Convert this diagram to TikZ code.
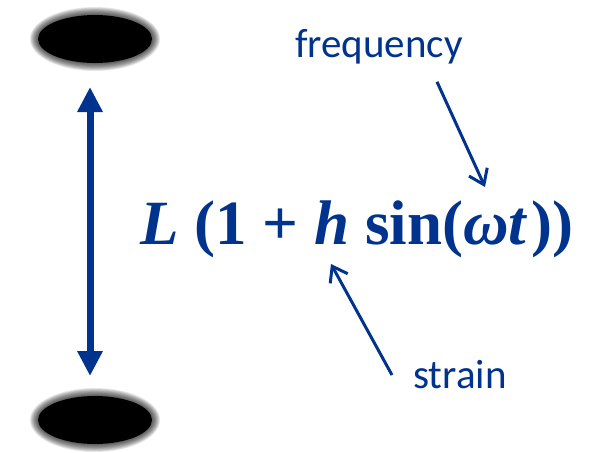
\documentclass[tikz,border=0pt]{standalone}
\usepackage{fontspec}
\usepackage{tikz}
\usetikzlibrary{shapes.geometric, arrows.meta, positioning, calc}

\newfontfamily\labelfont{Carlito}
\newfontfamily\formulafont{Liberation Serif}
\definecolor{strainblue}{RGB}{0,51,141}

\begin{document}
\begin{tikzpicture}[
  x=1pt, y=-1pt,
  mass/.style={ellipse, fill=black, inner sep=0pt, outer sep=0pt, minimum width=114pt, minimum height=48pt},
  halo/.style={fill=black, fill opacity=0.09},
  twoway/.style={draw=strainblue, line width=7pt, {Triangle[length=25pt,width=24pt]}-{Triangle[length=25pt,width=24pt]}},
  pointer/.style={draw=strainblue, line width=3pt, -{Straight Barb[length=14pt,width=20pt]}},
  word/.style={text=strainblue, font=\labelfont\fontsize{41}{41}\selectfont, inner sep=0pt},
]
\useasboundingbox (0,0) rectangle (598,453);

% blurred test masses
\foreach \cy in {39,420} {
  \foreach \i in {1,...,10}
    \fill[halo] (95,\cy) ellipse [x radius=57+0.8*\i, y radius=24+0.8*\i];
}
\node[mass] (topmass) at (95,39) {};
\node[mass] (botmass) at (95,420) {};

\draw[twoway] ([xshift=-5pt,yshift=-24pt]topmass.south) -- ([xshift=-5pt,yshift=20pt]botmass.north);

% the formula
\node[anchor=base west, inner sep=0pt, text=strainblue] (formula) at (140,244)
  {\formulafont\bfseries\fontsize{63}{63}\selectfont
   \textit{L} (1 + \textit{h} sin(\textit{ωt\kern0.08em}))};

\node[word, anchor=base west] (freq) at (295,57) {frequency};
\node[word, anchor=base west] (strain) at (413,388) {strain};

\coordinate (omega) at (485,187);
\coordinate (hpos) at (331,264);

\draw[pointer] ([xshift=58pt,yshift=-18pt]freq.south) -- (omega);
\draw[pointer] ([xshift=-21pt,yshift=-1pt]strain.west) -- (hpos);
\end{tikzpicture}
\end{document}
